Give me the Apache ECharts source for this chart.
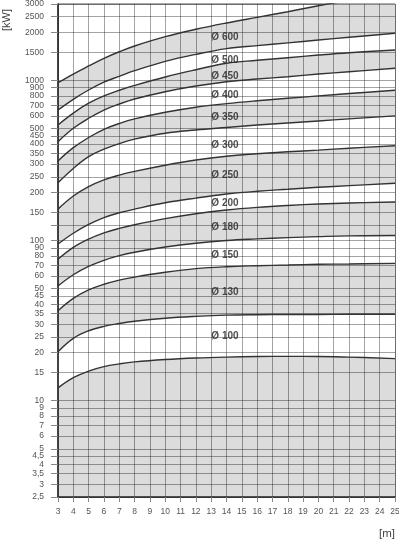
<!DOCTYPE html>
<html>
<head>
<meta charset="utf-8">
<script src="https://cdn.jsdelivr.net/npm/echarts@6/dist/echarts.min.js"></script>
<style>
html, body { margin: 0; padding: 0; background: #fff; }
#chart { width: 399px; height: 543px; }
</style>
</head>
<body>
<div id="chart"></div>
<script>
// Abstand [m]
var xs = [3, 4, 5, 6, 7, 8, 10, 12, 14, 16, 18, 20, 22, 25]

// Grenzkurven [kW], von unten nach oben
var c1 = [12.0, 13.9, 15.3, 16.3, 16.95, 17.45, 18.05, 18.45, 18.7, 18.85, 18.9, 18.85, 18.7, 18.3]
var c2 = [20.2, 24.5, 27.3, 29.1, 30.3, 31.3, 32.7, 33.6, 34.2, 34.4, 34.5, 34.5, 34.6, 34.6]
var c3 = [36.4, 43.5, 49.1, 53.3, 56.6, 59.1, 63.3, 66.7, 68.6, 69.6, 70.3, 71, 71.3, 72]
var c4 = [52, 61.1, 68.9, 75.2, 80.4, 84.5, 91, 96.2, 100, 102.3, 104.2, 105.7, 106.9, 107.5]
var c5 = [76.3, 90.5, 102, 111.5, 119, 125.5, 137, 147, 155, 161, 165.5, 169, 171.5, 174]
var c6 = [95, 111, 126, 139, 149, 157, 172, 184, 195, 203, 209, 215, 220, 228]
var c7 = [157, 189.5, 217, 239, 256, 270, 295, 318, 336, 348, 358, 367, 377, 391]
var c8 = [229.5, 282, 334, 372, 403, 430, 468, 490, 508, 526, 542, 558, 575, 600]
var c9 = [314, 380, 440, 495, 538, 575, 632, 680, 716, 746, 773, 800, 828, 868]
var c10 = [414, 502, 580, 653, 712, 765, 850, 922, 981, 1020, 1054, 1096, 1133, 1190]
var c11 = [527, 625, 720, 800, 868, 930, 1050, 1165, 1280, 1335, 1386, 1440, 1489, 1548]
var c12 = [653, 762, 871, 975, 1060, 1150, 1315, 1455, 1580, 1648, 1715, 1787, 1859, 1968]
var c13 = [967, 1096, 1230, 1374, 1510, 1640, 1875, 2085, 2283, 2477, 2685, 2927, 3150, 3450]
var curves = [c1, c2, c3, c4, c5, c6, c7, c8, c9, c10, c11, c12, c13]

// Beschriftung der Felder
var bandNames = ['Ø 100', 'Ø 130', 'Ø 150', 'Ø 180', 'Ø 200', 'Ø 250', 'Ø 300', 'Ø 350', 'Ø 400', 'Ø 450', 'Ø 500', 'Ø 600']
var bandLabelKw = [25.1, 47.2, 80.4, 121, 171, 254, 395, 585, 810, 1065, 1341, 1848]
var bandLabelX = 13.9

// y Teilung
var yTicks = [2.5, 3, 3.5, 4, 4.5, 5, 6, 7, 8, 9, 10, 15, 20, 25, 30, 35, 40, 45, 50, 60, 70, 80, 90, 100, 125, 150, 200, 250, 300, 350, 400, 450, 500, 600, 700, 800, 900, 1000, 1500, 2000, 2500, 3000]
var yTickLabels = ['2,5', '3', '3,5', '4', '4,5', '5', '6', '7', '8', '9', '10', '15', '20', '25', '30', '35', '40', '45', '50', '60', '70', '80', '90', '100', '', '150', '200', '250', '300', '350', '400', '450', '500', '600', '700', '800', '900', '1000', '1500', '2000', '2500', '3000']

var FONT = 'Liberation Sans, Arial, sans-serif'
var GREY = '#dcdcdc'

function lg (arr) {
  return arr.map(function (v, i) { return [xs[i], Math.log10(v)] })
}

var series = []
// Flaechen: von oben nach unten abwechselnd grau / weiss bis 2,5 gefuellt
for (var i = curves.length - 1; i >= 0; i--) {
  series.push({
    type: 'line',
    data: lg(curves[i]),
    smooth: 0.4,
    showSymbol: false,
    silent: true,
    z: 1,
    lineStyle: { width: 0 },
    areaStyle: { color: i % 2 === 0 ? GREY : '#fff', opacity: 1, origin: 'start' }
  })
}
// Kurven
curves.forEach(function (c) {
  series.push({
    type: 'line',
    data: lg(c),
    smooth: 0.4,
    showSymbol: false,
    silent: true,
    z: 4,
    lineStyle: { color: '#333', width: 1.4 }
  })
})
// Ø Texte
series.push({
  type: 'scatter',
  symbolSize: 0,
  silent: true,
  z: 5,
  data: bandNames.map(function (n, i) {
    return { name: n, value: [bandLabelX, Math.log10(bandLabelKw[i])] }
  }),
  label: {
    show: true,
    position: 'inside',
    formatter: '{b}',
    fontFamily: FONT,
    fontWeight: 'bold',
    fontSize: 10,
    color: '#222'
  }
})

var logTicks = yTicks.map(function (v) { return Math.log10(v) })
var gridLine = { color: 'rgba(0, 0, 0, 0.36)', width: 1 }

var chart = echarts.init(document.getElementById('chart'))
chart.setOption({
  animation: false,
  backgroundColor: '#fff',
  grid: {
    left: 58,
    right: 4,
    top: 4,
    bottom: 46,
    show: true,
    borderColor: '#555',
    borderWidth: 1,
    outerBoundsMode: 'none'
  },
  xAxis: {
    type: 'value',
    z: 3,
    min: 3,
    max: 25,
    interval: 1,
    axisLine: { show: true, lineStyle: { color: '#222', width: 1.5 } },
    axisTick: { show: true, length: 5, lineStyle: { color: '#888' } },
    axisLabel: { margin: 10, fontSize: 8.5, color: '#555', fontFamily: FONT },
    splitLine: { show: true, lineStyle: gridLine }
  },
  yAxis: {
    type: 'value',
    z: 3,
    min: Math.log10(2.5),
    max: Math.log10(3000),
    axisLine: { show: true, lineStyle: { color: '#222', width: 1.5 } },
    axisTick: { show: true, customValues: logTicks, length: 7, lineStyle: { color: '#888' } },
    axisLabel: {
      customValues: logTicks.filter(function (v, i) { return yTickLabels[i] !== '' }),
      margin: 14,
      fontSize: 8.5,
      color: '#555',
      fontFamily: FONT,
      formatter: function (v) {
        var best = 0
        for (var i = 1; i < logTicks.length; i++) {
          if (Math.abs(logTicks[i] - v) < Math.abs(logTicks[best] - v)) best = i
        }
        return yTickLabels[best]
      }
    },
    splitLine: { show: true, lineStyle: gridLine }
  },
  graphic: [
    {
      type: 'text',
      x: 7,
      y: 31,
      rotation: Math.PI / 2,
      style: { text: '[kW]', fontSize: 11, fontFamily: FONT, fill: '#444', textAlign: 'left', textVerticalAlign: 'middle' }
    },
    {
      type: 'text',
      x: 387,
      y: 534,
      style: { text: '[m]', fontSize: 11.5, fontFamily: FONT, fill: '#444', textAlign: 'center', textVerticalAlign: 'middle' }
    }
  ],
  series: series
})
</script>
</body>
</html>
